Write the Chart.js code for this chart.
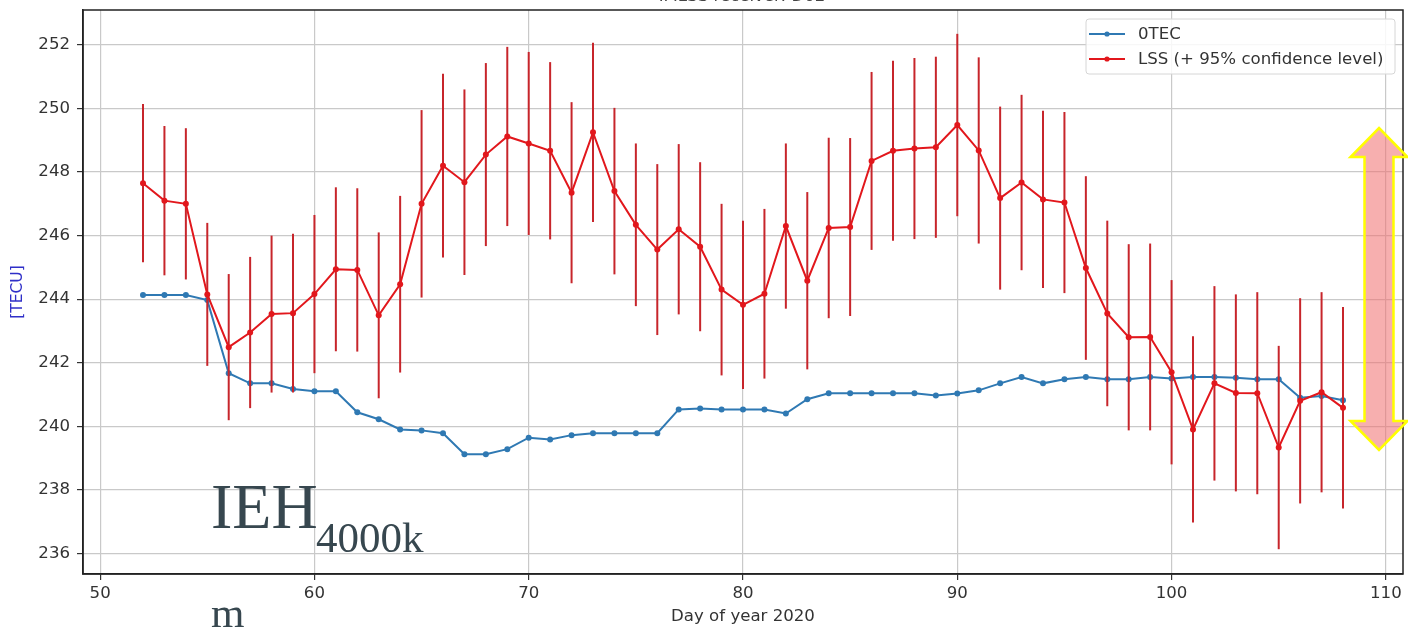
<!DOCTYPE html>
<html>
<head>
<meta charset="utf-8">
<script src="https://cdn.jsdelivr.net/npm/chart.js@4.4.1/dist/chart.umd.min.js"></script>
<style>
  html, body { margin: 0; padding: 0; background: #fff; }
  #wrap { width: 1408px; height: 634px; position: relative; }
</style>
</head>
<body>
<div id="wrap"><canvas id="chart"></canvas></div>
<script>
// Day of year 2020
const days = [52, 53, 54, 55, 56, 57, 58, 59, 60, 61, 62, 63, 64, 65, 66, 67, 68, 69, 70,
  71, 72, 73, 74, 75, 76, 77, 78, 79, 80, 81, 82, 83, 84, 85, 86, 87, 88, 89, 90,
  91, 92, 93, 94, 95, 96, 97, 98, 99, 100, 101, 102, 103, 104, 105, 106, 107, 108];

// 0TEC [TECU]
const otec = [244.13, 244.13, 244.13, 243.97, 241.67, 241.35, 241.35, 241.17, 241.10,
  241.10, 240.44, 240.22, 239.90, 239.87, 239.78, 239.12, 239.12, 239.28, 239.64,
  239.58, 239.72, 239.78, 239.78, 239.78, 239.78, 240.53, 240.56, 240.53, 240.53,
  240.53, 240.40, 240.85, 241.04, 241.04, 241.04, 241.04, 241.04, 240.97, 241.03,
  241.13, 241.35, 241.55, 241.35, 241.48, 241.55, 241.48, 241.48, 241.55, 241.50,
  241.55, 241.55, 241.53, 241.48, 241.48, 240.90, 240.95, 240.82];

// LSS estimate and its 95% confidence half-width [TECU]
const lss = [247.65, 247.10, 247.00, 244.15, 242.49, 242.95, 243.53, 243.56, 244.16,
  244.94, 244.92, 243.49, 244.47, 247.00, 248.20, 247.68, 248.55, 249.12, 248.90,
  248.67, 247.35, 249.25, 247.40, 246.34, 245.56, 246.20, 245.65, 244.30, 243.82,
  244.17, 246.30, 244.58, 246.24, 246.27, 248.35, 248.67, 248.74, 248.78, 249.48,
  248.68, 247.18, 247.67, 247.14, 247.04, 244.98, 243.55, 242.80, 242.81, 241.70,
  239.90, 241.35, 241.05, 241.04, 239.33, 240.80, 241.07, 240.58];
const lssErr = [2.49, 2.35, 2.38, 2.25, 2.30, 2.38, 2.47, 2.50, 2.49, 2.58, 2.57, 2.61,
  2.78, 2.95, 2.89, 2.92, 2.88, 2.82, 2.88, 2.79, 2.85, 2.82, 2.62, 2.56, 2.69, 2.68,
  2.66, 2.70, 2.65, 2.67, 2.60, 2.79, 2.84, 2.80, 2.80, 2.83, 2.85, 2.85, 2.87, 2.93,
  2.88, 2.76, 2.79, 2.85, 2.89, 2.92, 2.93, 2.94, 2.90, 2.93, 3.06, 3.10, 3.18, 3.20,
  3.23, 3.15, 3.17];

const xTicks = [50, 60, 70, 80, 90, 100, 110];
const yTicks = [236, 238, 240, 242, 244, 246, 248, 250, 252];

const FONT = 'DejaVu Sans';
const BLUE = '#2f79b3';
const RED = '#e2171c';
const RED_BAR = '#c7252b';

// vertical confidence bars, drawn just before the dataset that carries them
const errorBars = {
  id: 'errorBars',
  beforeDatasetDraw(chart, args) {
    const ds = chart.data.datasets[args.index];
    if (!ds.errors) return;
    const { ctx, scales: { x, y } } = chart;
    ctx.save();
    ctx.strokeStyle = ds.errorColor;
    ctx.lineWidth = 2;
    ds.data.forEach((p, i) => {
      const px = x.getPixelForValue(p.x);
      ctx.beginPath();
      ctx.moveTo(px, y.getPixelForValue(p.y - ds.errors[i]));
      ctx.lineTo(px, y.getPixelForValue(p.y + ds.errors[i]));
      ctx.stroke();
    });
    ctx.restore();
  }
};

// full box around the axes
const frame = {
  id: 'frame',
  afterDatasetsDraw(chart) {
    const { ctx, chartArea: a } = chart;
    ctx.save();
    ctx.strokeStyle = '#222';
    ctx.lineWidth = 1.5;
    ctx.strokeRect(a.left, a.top, a.right - a.left, a.bottom - a.top);
    ctx.restore();
  }
};

// matplotlib-style legend box in the upper right
const boxLegend = {
  id: 'boxLegend',
  afterDatasetsDraw(chart) {
    const { ctx, chartArea: a } = chart;
    const items = chart.data.datasets.slice().sort((p, q) => p.legendRank - q.legendRank);
    const x0 = a.right - 317, y0 = a.top + 9, w = 309, h = 55;
    ctx.save();
    ctx.fillStyle = 'rgba(255,255,255,0.85)';
    ctx.strokeStyle = '#d6d6d6';
    ctx.lineWidth = 1;
    ctx.beginPath();
    ctx.roundRect(x0, y0, w, h, 3);
    ctx.fill();
    ctx.stroke();
    ctx.font = '16.6px "' + FONT + '"';
    ctx.textBaseline = 'middle';
    items.forEach((ds, i) => {
      const cy = y0 + 15 + i * 25;
      ctx.strokeStyle = ds.borderColor;
      ctx.lineWidth = 2;
      ctx.beginPath();
      ctx.moveTo(x0 + 3, cy);
      ctx.lineTo(x0 + 39, cy);
      ctx.stroke();
      ctx.fillStyle = ds.borderColor;
      ctx.beginPath();
      ctx.arc(x0 + 21, cy, 2.6, 0, Math.PI * 2);
      ctx.fill();
      ctx.fillStyle = '#333';
      ctx.fillText(ds.label, x0 + 52, cy + 1);
    });
    ctx.restore();
  }
};

// title, annotation text and the range arrow
const overlay = {
  id: 'overlay',
  afterDraw(chart) {
    const { ctx } = chart;
    ctx.save();
    ctx.fillStyle = '#444';
    ctx.font = '16.6px "' + FONT + '"';
    ctx.textAlign = 'center';
    ctx.textBaseline = 'alphabetic';
    ctx.fillText('IMLSS receiver: D02', 742, 1);

    ctx.textAlign = 'left';
    ctx.fillStyle = '#37474f';
    ctx.font = '64px "Liberation Serif"';
    ctx.fillText('IEH', 211, 528);
    ctx.font = '43px "Liberation Serif"';
    ctx.fillText('4000k', 316, 552);
    ctx.fillText('m', 211, 627);

    // double-headed arrow
    const cx = 1379, top = 128, bot = 450, head = 29, hw = 28.5, sw = 14.5;
    ctx.beginPath();
    ctx.moveTo(cx, top);
    ctx.lineTo(cx + hw, top + head);
    ctx.lineTo(cx + sw, top + head);
    ctx.lineTo(cx + sw, bot - head);
    ctx.lineTo(cx + hw, bot - head);
    ctx.lineTo(cx, bot);
    ctx.lineTo(cx - hw, bot - head);
    ctx.lineTo(cx - sw, bot - head);
    ctx.lineTo(cx - sw, top + head);
    ctx.lineTo(cx - hw, top + head);
    ctx.closePath();
    ctx.fillStyle = 'rgba(240,110,110,0.55)';
    ctx.fill();
    ctx.strokeStyle = '#ffff00';
    ctx.lineWidth = 2.5;
    ctx.stroke();
    ctx.restore();
  }
};

new Chart(document.getElementById('chart'), {
  type: 'line',
  data: {
    datasets: [
      {
        label: '0TEC',
        legendRank: 0,
        order: 1,
        data: days.map((d, i) => ({ x: d, y: otec[i] })),
        borderColor: BLUE,
        backgroundColor: BLUE,
        borderWidth: 2,
        pointRadius: 3,
        pointBorderWidth: 0,
        pointBackgroundColor: BLUE,
        tension: 0
      },
      {
        label: 'LSS (+ 95% confidence level)',
        legendRank: 1,
        order: 0,
        data: days.map((d, i) => ({ x: d, y: lss[i] })),
        errors: lssErr,
        errorColor: RED_BAR,
        borderColor: RED,
        backgroundColor: RED,
        borderWidth: 2,
        pointRadius: 3,
        pointBorderWidth: 0,
        pointBackgroundColor: RED,
        tension: 0
      }
    ]
  },
  options: {
    responsive: true,
    maintainAspectRatio: false,
    animation: false,
    events: [],
    layout: { padding: { top: 10, right: 5, left: 0, bottom: 0 } },
    plugins: {
      legend: { display: false },
      tooltip: { enabled: false }
    },
    scales: {
      x: {
        type: 'linear',
        min: 49.2,
        max: 110.8,
        afterBuildTicks: (s) => { s.ticks = xTicks.map(v => ({ value: v })); },
        afterFit: (s) => { s.height = 60; s.paddingLeft = 0; s.paddingRight = 0; },
        grid: { color: '#c9c9c9', lineWidth: 1.2, tickColor: '#333', tickLength: 6 },
        border: { color: '#222', width: 1.5 },
        ticks: { color: '#333', padding: 4, font: { family: FONT, size: 16.6 }, maxRotation: 0 },
        title: {
          display: true,
          text: 'Day of year 2020',
          color: '#333',
          font: { family: FONT, size: 16.6 },
          padding: { top: 0, bottom: 7 }
        }
      },
      y: {
        type: 'linear',
        min: 235.35,
        max: 253.1,
        afterBuildTicks: (s) => { s.ticks = yTicks.map(v => ({ value: v })); },
        afterFit: (s) => { s.width = 83; s.paddingTop = 0; s.paddingBottom = 0; },
        grid: { color: '#c9c9c9', lineWidth: 1.2, tickColor: '#333', tickLength: 6 },
        border: { color: '#222', width: 1.5 },
        ticks: { color: '#333', padding: 7, font: { family: FONT, size: 16.6 } },
        title: {
          display: true,
          text: '[TECU]',
          color: '#2f2fc8',
          font: { family: FONT, size: 15.5 },
          padding: { top: 8.5, bottom: 0 }
        }
      }
    }
  },
  plugins: [errorBars, frame, boxLegend, overlay]
});
</script>
</body>
</html>
